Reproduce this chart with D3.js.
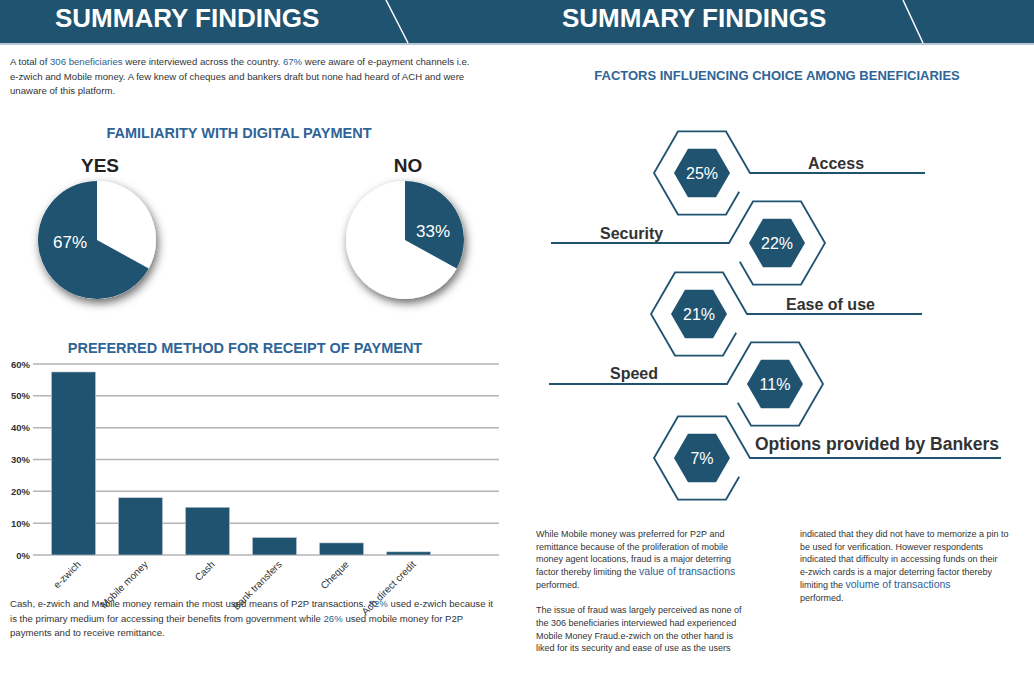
<!DOCTYPE html>
<html><head><meta charset="utf-8">
<script src="https://cdn.jsdelivr.net/npm/d3@7"></script>
<style>body{margin:0;background:#fff}svg{display:block;font-family:"Liberation Sans",Arial,sans-serif}</style>
</head><body><svg id="c" width="1034" height="676"></svg>
<script>
const methods = ["e-zwich","Mobile money","Cash","Bank transfers","Cheque","Ach direct credit"];
const methodValues = [0.575,0.18,0.15,0.055,0.038,0.01];
const yTicks = [0,0.1,0.2,0.3,0.4,0.5,0.6];
const familiarity = [{label:"YES",value:67},{label:"NO",value:33}];
const factors = ["Access","Security","Ease of use","Speed","Options provided by Bankers"];
const factorValues = [25,22,21,11,7];

const BLUE="#1f5370", HL="#2d5f96", TXT="#333";
const svg=d3.select("#c");
const defs=svg.append("defs");
const f=defs.append("filter").attr("id","sh").attr("x","-30%").attr("y","-30%").attr("width","160%").attr("height","160%");
f.append("feDropShadow").attr("dx",2).attr("dy",4).attr("stdDeviation",5).attr("flood-color","#000").attr("flood-opacity",0.6);

// headers
svg.append("rect").attr("x",0).attr("y",0).attr("width",1034).attr("height",43).attr("fill",BLUE);
svg.append("line").attr("x1",0).attr("x2",1034).attr("y1",44).attr("y2",44).attr("stroke","#9fb7c8").attr("stroke-width",1.5);
[[386,408],[903,923]].forEach(([a,b])=>svg.append("line").attr("x1",a).attr("y1",0).attr("x2",b).attr("y2",43).attr("stroke","#fff").attr("stroke-width",1.5));
[[55],[562]].forEach(([x])=>svg.append("text").attr("x",x).attr("y",27).attr("fill","#fff").attr("font-size",26).attr("font-weight","bold").text("SUMMARY FINDINGS"));

function para(x,y,lh,lines,size){
  const t=svg.append("text").attr("font-size",size||9.6).attr("fill",TXT);
  lines.forEach((ln,i)=>{
    ln.forEach((seg,j)=>{
      const s=t.append("tspan").text(seg[0]);
      if(j===0) s.attr("x",x).attr("y",y+i*lh);
      if(seg[1]) s.attr("fill",HL).attr("font-size",seg[2]||null);
    });
  });
}
para(10,65,14.5,[
 [["A total of "],["306 beneficiaries",1],[" were interviewed across the country. "],["67%",1],[" were aware of e-payment channels i.e."]],
 [["e-zwich and Mobile money. A few knew of cheques and bankers draft but none had heard of ACH and were"]],
 [["unaware of this platform."]]]);
para(10,607,14.5,[
 [["Cash, e-zwich and Mobile money remain the most used means of P2P transactions. "],["82%",1],[" used e-zwich because it"]],
 [["is the primary medium for accessing their benefits from government while "],["26%",1],[" used mobile money for P2P"]],
 [["payments and to receive remittance."]]]);
para(536,537,12.7,[
 [["While Mobile money was preferred for P2P and"]],
 [["remittance because of the proliferation of mobile"]],
 [["money agent locations, fraud is a major deterring"]],
 [["factor thereby limiting the "],["value of transactions",1,10.5]],
 [["performed."]],[[" "]],
 [["The issue of fraud was largely perceived as none of"]],
 [["the 306 beneficiaries interviewed had experienced"]],
 [["Mobile Money Fraud.e-zwich on the other hand is"]],
 [["liked for its security and ease of use  as the users"]]],9);
para(800,537,12.7,[
 [["indicated that they did not have to memorize a pin to"]],
 [["be used for verification. However respondents"]],
 [["indicated that difficulty in accessing funds on their"]],
 [["e-zwich cards is a major deterring factor thereby"]],
 [["limiting the  "],["volume of transactions",1,10.5]],
 [["performed."]]],9);

// titles
const title=(x,y,s,t)=>svg.append("text").attr("x",x).attr("y",y).attr("text-anchor","middle").attr("font-size",s).attr("font-weight","bold").attr("fill","#2f6496").text(t);
title(239,138,14.5,"FAMILIARITY WITH DIGITAL PAYMENT");
title(245,353,14.5,"PREFERRED METHOD FOR RECEIPT OF  PAYMENT");
title(777,80,13,"FACTORS INFLUENCING CHOICE AMONG BENEFICIARIES");

// pies
const arc=d3.arc().innerRadius(0).outerRadius(59);
const pieCx=d3.scalePoint().domain(familiarity.map(d=>d.label)).range([97,405]);
familiarity.forEach(d=>{
  const cx=pieCx(d.label), cy=240;
  const g=svg.append("g").attr("transform",`translate(${cx},${cy})`);
  g.append("circle").attr("r",59).attr("fill","#fff").attr("filter","url(#sh)");
  const frac=d.value/100;
  const a0 = d.label==="YES" ? 2*Math.PI*(1-frac) : 0;
  const a1 = d.label==="YES" ? 2*Math.PI : 2*Math.PI*frac;
  g.append("path").attr("d",arc({startAngle:a0,endAngle:a1})).attr("fill",BLUE);
  const c=arc.centroid({startAngle:a0,endAngle:a1,innerRadius:0,outerRadius:59});
  g.append("text").attr("x",d.label==="YES"?-27:28).attr("y",d.label==="YES"?8:-3).attr("text-anchor","middle").attr("fill","#fff").attr("font-size",17).text(d.value+"%");
  svg.append("text").attr("x",cx+3).attr("y",172).attr("text-anchor","middle").attr("font-size",19).attr("font-weight","bold").attr("fill","#222").text(d.label);
});

// bar chart
const x=d3.scaleBand().domain(methods).range([40,442]).paddingInner(0.34).paddingOuter(0.17);
const y=d3.scaleLinear().domain([0,0.6]).range([555,364]);
const grid=svg.append("g");
yTicks.forEach(t=>grid.append("line").attr("x1",33).attr("x2",499).attr("y1",y(t)).attr("y2",y(t)).attr("stroke","#b5b5b5").attr("stroke-width",1.5));
const ya=svg.append("g").attr("transform","translate(33,0)").call(d3.axisLeft(y).tickValues(yTicks).tickFormat(d3.format(".0%")).tickSize(0).tickPadding(3));
ya.select(".domain").remove();
ya.selectAll("text").attr("font-size",9.5).attr("font-weight","bold").attr("fill",TXT).attr("font-family","Liberation Sans, Arial");
svg.selectAll(".bar").data(methods).enter().append("rect")
 .attr("x",d=>x(d)).attr("width",x.bandwidth()).attr("y",(d,i)=>y(methodValues[i])).attr("height",(d,i)=>y(0)-y(methodValues[i]))
 .attr("fill",BLUE).attr("stroke","#c9d3da").attr("stroke-width",0.6);
svg.selectAll(".xl").data(methods).enter().append("text")
 .attr("transform",d=>`translate(${x(d)+x.bandwidth()/2+8},${565}) rotate(-45)`)
 .attr("text-anchor","end").attr("font-size",10).attr("fill",TXT).text(d=>d);

// hexagons
const R=48, r=28;
const hexPt=(cx,cy,rad,k)=>{const a=Math.PI/3*k;return [cx+rad*Math.cos(a),cy+rad*Math.sin(a)];};
const hexCenters=[[702,173,"R",925],[777,243,"L",551],[699,314,"R",922],[775,384,"L",549],[702,458,"R",1001]];
const labelPos=[[808,169,16],[600,239,16],[786,310,16],[610,379,16],[755,450,17.5]];
factors.forEach((name,i)=>{
  const [cx,cy,side,lx]=hexCenters[i];
  const g=svg.append("g");
  let pts;
  const lerp=(p,q,t)=>[p[0]+(q[0]-p[0])*t,p[1]+(q[1]-p[1])*t];
  if(side==="R"){
    // vertices k: 0 right,1 bottom-right,2 bottom-left,3 left,4 top-left,5 top-right
    const gapStart=lerp(hexPt(cx,cy,R,0),hexPt(cx,cy,R,1),0.45);
    pts=[gapStart,hexPt(cx,cy,R,1),hexPt(cx,cy,R,2),hexPt(cx,cy,R,3),hexPt(cx,cy,R,4),hexPt(cx,cy,R,5),hexPt(cx,cy,R,0),[lx,cy]];
  } else {
    const gapStart=lerp(hexPt(cx,cy,R,3),hexPt(cx,cy,R,2),0.45);
    pts=[gapStart,hexPt(cx,cy,R,2),hexPt(cx,cy,R,1),hexPt(cx,cy,R,0),hexPt(cx,cy,R,5),hexPt(cx,cy,R,4),hexPt(cx,cy,R,3),[lx,cy]];
  }
  g.append("path").attr("d",d3.line()(pts)).attr("fill","none").attr("stroke",BLUE).attr("stroke-width",1.8);
  g.append("path").attr("d",d3.line()(d3.range(6).map(k=>hexPt(cx,cy,r,k)))+"Z").attr("fill",BLUE);
  g.append("text").attr("x",cx).attr("y",cy+6).attr("text-anchor","middle").attr("fill","#fff").attr("font-size",16).text(factorValues[i]+"%");
  const [tx,ty,fs]=labelPos[i];
  g.append("text").attr("x",tx).attr("y",ty).attr("font-size",fs).attr("font-weight","bold").attr("fill",TXT).text(name);
});
</script></body></html>
